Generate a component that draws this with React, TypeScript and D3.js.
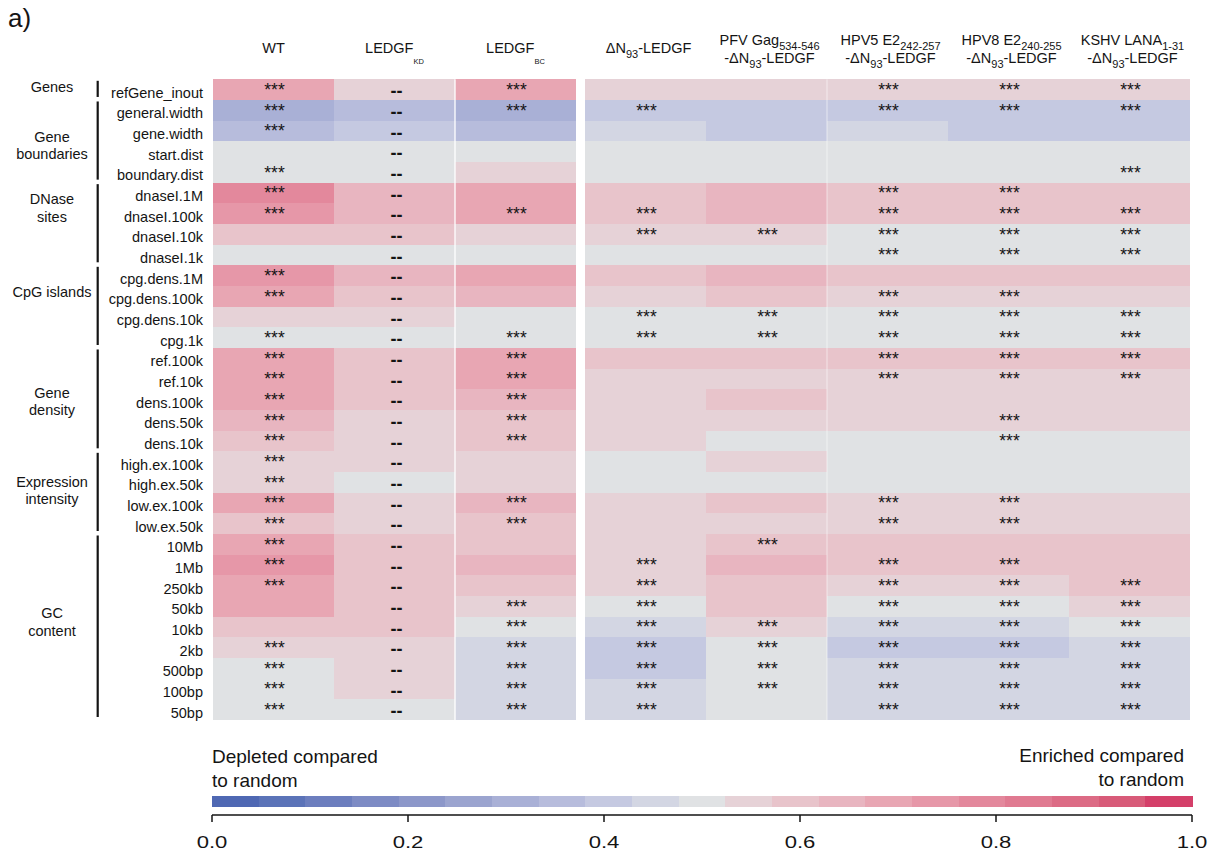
import React from "react";
import * as d3 from "d3";

// ---- Data -----------------------------------------------------------------

const rowLabels = [
  "refGene_inout",
  "general.width", "gene.width", "start.dist", "boundary.dist",
  "dnaseI.1M", "dnaseI.100k", "dnaseI.10k", "dnaseI.1k",
  "cpg.dens.1M", "cpg.dens.100k", "cpg.dens.10k", "cpg.1k",
  "ref.100k", "ref.10k", "dens.100k", "dens.50k", "dens.10k",
  "high.ex.100k", "high.ex.50k", "low.ex.100k", "low.ex.50k",
  "10Mb", "1Mb", "250kb", "50kb", "10kb", "2kb", "500bp", "100bp", "50bp",
];

const groupNames = [
  "Genes", "Gene\nboundaries", "DNase\nsites", "CpG islands",
  "Gene\ndensity", "Expression\nintensity", "GC\ncontent",
];
const groupSizes = [1, 4, 4, 4, 5, 4, 9];

// Column headers: lines of [text, kind] segments ("sub" = subscript, "tiny" = small low subscript)
type Seg = [string, string?];
const columnHeaders: Seg[][][] = [
  [[["WT"]]],
  [[["LEDGF"], ["KD", "tiny"]]],
  [[["LEDGF"], ["BC", "tiny"]]],
  [[["ΔN"], ["93", "sub"], ["-LEDGF"]]],
  [[["PFV Gag"], ["534-546", "sub"]], [["-ΔN"], ["93", "sub"], ["-LEDGF"]]],
  [[["HPV5 E2"], ["242-257", "sub"]], [["-ΔN"], ["93", "sub"], ["-LEDGF"]]],
  [[["HPV8 E2"], ["240-255", "sub"]], [["-ΔN"], ["93", "sub"], ["-LEDGF"]]],
  [[["KSHV LANA"], ["1-31", "sub"]], [["-ΔN"], ["93", "sub"], ["-LEDGF"]]],
];

// ROC-area style scores per condition, one per row (0 = depleted, 1 = enriched)
const wtValues = [
  0.69, 0.31, 0.36, 0.50, 0.50, 0.78, 0.74, 0.58, 0.50, 0.74, 0.69, 0.55, 0.50,
  0.70, 0.70, 0.70, 0.65, 0.59, 0.55, 0.55, 0.69, 0.60,
  0.70, 0.75, 0.70, 0.68, 0.61, 0.55, 0.50, 0.50, 0.50,
];
const ledgfKdValues = [
  0.55, 0.36, 0.41, 0.50, 0.50, 0.64, 0.64, 0.59, 0.50, 0.64, 0.60, 0.55, 0.50,
  0.60, 0.59, 0.59, 0.55, 0.55, 0.55, 0.50, 0.55, 0.55,
  0.59, 0.59, 0.59, 0.59, 0.59, 0.55, 0.55, 0.55, 0.50,
];
const ledgfBcValues = [
  0.70, 0.31, 0.36, 0.50, 0.55, 0.70, 0.70, 0.55, 0.50, 0.70, 0.65, 0.50, 0.50,
  0.70, 0.70, 0.66, 0.61, 0.61, 0.55, 0.55, 0.66, 0.60,
  0.60, 0.66, 0.60, 0.55, 0.50, 0.45, 0.45, 0.45, 0.45,
];
const dn93Values = [
  0.55, 0.40, 0.45, 0.50, 0.50, 0.61, 0.61, 0.55, 0.50, 0.61, 0.56, 0.50, 0.50,
  0.60, 0.55, 0.55, 0.55, 0.55, 0.50, 0.50, 0.55, 0.55,
  0.55, 0.56, 0.56, 0.50, 0.45, 0.40, 0.40, 0.45, 0.45,
];
const pfvValues = [
  0.55, 0.40, 0.40, 0.50, 0.50, 0.65, 0.65, 0.55, 0.50, 0.65, 0.61, 0.50, 0.50,
  0.60, 0.55, 0.59, 0.56, 0.50, 0.55, 0.50, 0.60, 0.56,
  0.61, 0.66, 0.60, 0.60, 0.55, 0.50, 0.50, 0.50, 0.50,
];
const hpv5Values = [
  0.55, 0.40, 0.45, 0.50, 0.50, 0.61, 0.61, 0.50, 0.50, 0.61, 0.55, 0.50, 0.50,
  0.61, 0.55, 0.55, 0.55, 0.50, 0.50, 0.50, 0.55, 0.55,
  0.61, 0.61, 0.55, 0.50, 0.45, 0.40, 0.45, 0.45, 0.45,
];
const hpv8Values = [
  0.55, 0.40, 0.40, 0.50, 0.50, 0.61, 0.61, 0.50, 0.50, 0.61, 0.55, 0.50, 0.50,
  0.61, 0.55, 0.55, 0.55, 0.50, 0.50, 0.50, 0.55, 0.55,
  0.61, 0.61, 0.55, 0.50, 0.45, 0.40, 0.45, 0.45, 0.45,
];
const kshvValues = [
  0.55, 0.40, 0.40, 0.50, 0.50, 0.61, 0.61, 0.50, 0.50, 0.61, 0.55, 0.50, 0.50,
  0.61, 0.55, 0.55, 0.55, 0.50, 0.50, 0.50, 0.55, 0.55,
  0.61, 0.61, 0.61, 0.55, 0.50, 0.45, 0.45, 0.45, 0.45,
];

// Significance per row: "x" = *** , "-" = not compared (--), "." = none
const wtSig     = "xxx.x" + "xx..x" + "x.xxx" + "xxxxx" + "xxxxx" + "..xxx" + "x";
const ledgfKdSig = "-----" + "-----" + "-----" + "-----" + "-----" + "-----" + "-";
const ledgfBcSig = "xx..." + ".x..." + "..xxx" + "xxx.." + "xx..." + "xxxxx" + "x";
const dn93Sig   = ".x..." + ".xx.." + ".xx.." + "....." + "...xx" + "xxxxx" + "x";
const pfvSig    = "....." + "..x.." + ".xx.." + "....." + "..x.." + ".xxxx" + ".";
const hpv5Sig   = "xx..." + "xxxx." + "xxxxx" + "....." + "xx.xx" + "xxxxx" + "x";
const hpv8Sig   = "xx..." + "xxxx." + "xxxxx" + ".xx.." + "xx.xx" + "xxxxx" + "x";
const kshvSig   = "xx..x" + ".xxx." + ".xxxx" + "....." + "....x" + "xxxxx" + "x";

const columnValues = [wtValues, ledgfKdValues, ledgfBcValues, dn93Values, pfvValues, hpv5Values, hpv8Values, kshvValues];
const columnSig = [wtSig, ledgfKdSig, ledgfBcSig, dn93Sig, pfvSig, hpv5Sig, hpv8Sig, kshvSig];

// 21-step diverging palette, depleted (blue) → random (grey) → enriched (red)
const enrichmentColors = [
  "#4f68b3", "#5b73b8", "#6c7ebe", "#7d8bc4", "#8c97c9", "#9ba4cf", "#a9b0d6",
  "#b7bcdc", "#c5c9e1", "#d3d6e3", "#e0e2e4",
  "#e6d2d7", "#e8c4cb", "#e8b5c0", "#e8a6b3", "#e697a8", "#e3889c", "#e07a91",
  "#dc6b85", "#d85b79", "#d43f69",
];

const legendTicks = [0, 0.2, 0.4, 0.6, 0.8, 1.0];

// ---- Layout ---------------------------------------------------------------

const W = 1221;
const H = 856;
const FONT = "'Liberation Sans', Arial, Helvetica, sans-serif";
const INK = "#141414";

const rowScale = d3.scaleBand<number>().domain(d3.range(rowLabels.length)).range([79.3, 720]);
const leftCols = d3.scaleBand<number>().domain([0, 1, 2]).range([213, 576]);
const rightCols = d3.scaleBand<number>().domain([3, 4, 5, 6, 7]).range([585, 1190]);
const colX = (c: number) => (c < 3 ? (leftCols(c) as number) : (rightCols(c) as number));
const colW = leftCols.bandwidth();
const rowH = rowScale.bandwidth();

const color = d3.scaleQuantize<string>().domain([0, 1]).range(enrichmentColors);
const legendX = d3.scaleLinear().domain([0, 1]).range([212, 1192]);

const bracketX = 97.7;
const groupLabelX = 52;
const groupLineGap = 17.3;
const groupLabelNudge = [-3, 4, -16, -15, 2, -2, -5];

function HeaderLine({ segs, x, y }: { segs: Seg[]; x: number; y: number }) {
  let shift = 0;
  const spans = segs.map(([t, kind], i) => {
    const target = kind === "sub" ? 5 : kind === "tiny" ? 11 : 0;
    const dy = target - shift;
    shift = target;
    const fs = kind === "sub" ? 11 : kind === "tiny" ? 7.5 : 14.5;
    return (
      <tspan key={i} dy={dy} fontSize={fs}>
        {t}
      </tspan>
    );
  });
  return (
    <text x={x} y={y} textAnchor="middle" fill={INK}>
      {spans}
    </text>
  );
}

export default function App() {
  // group row extents
  const groups: { name: string; start: number; end: number }[] = [];
  let acc = 0;
  groupNames.forEach((name, i) => {
    groups.push({ name, start: acc, end: acc + groupSizes[i] - 1 });
    acc += groupSizes[i];
  });

  const top = rowScale(0) as number;
  const bottom = (rowScale(rowLabels.length - 1) as number) + rowH;

  return (
    <svg
      width={W}
      height={H}
      viewBox={`0 0 ${W} ${H}`}
      style={{ position: "absolute", left: 0, top: 0, background: "#fff" }}
      fontFamily={FONT}
    >
      <rect x={0} y={0} width={W} height={H} fill="#fff" />

      <text x={8} y={27} fontSize={26} fill={INK}>
        a)
      </text>

      {/* column headers */}
      {columnHeaders.map((lines, c) => {
        const cx = colX(c) + colW / 2 + (c >= 3 ? 3 : 0);
        const ys = lines.length === 1 ? [52.5] : [45, 63];
        return (
          <g key={c}>
            {lines.map((segs, li) => (
              <HeaderLine key={li} segs={segs} x={cx} y={ys[li]} />
            ))}
          </g>
        );
      })}

      {/* heatmap cells */}
      <g shapeRendering="crispEdges">
        {columnValues.map((vals, c) =>
          vals.map((v, r) => (
            <rect
              key={`${c}-${r}`}
              x={colX(c)}
              y={rowScale(r) as number}
              width={colW + (c === 2 || c === 7 ? 0 : 0.6)}
              height={rowH + (r === rowLabels.length - 1 ? 0 : 0.6)}
              fill={color(v)}
            />
          ))
        )}
      </g>

      {/* thin separators between panels */}
      <line x1={colX(2)} x2={colX(2)} y1={top} y2={bottom} stroke="#fff" strokeWidth={1.3} />
      <line x1={colX(5)} x2={colX(5)} y1={top} y2={bottom} stroke="#fff" strokeWidth={1} strokeOpacity={0.55} />

      {/* significance marks */}
      {columnSig.map((sig, c) =>
        sig.split("").map((m, r) => {
          if (m === ".") return null;
          const cy = (rowScale(r) as number) + rowH / 2;
          const cx = colX(c) + colW / 2 + (c === 1 ? 2 : 1);
          return m === "x" ? (
            <text key={`${c}-${r}`} x={cx} y={cy + 6.3} fontSize={17.5} textAnchor="middle" fill={INK}>
              ***
            </text>
          ) : (
            <text key={`${c}-${r}`} x={cx} y={cy + 7.6} fontSize={18} fontWeight="bold" textAnchor="middle" fill={INK}>
              --
            </text>
          );
        })
      )}

      {/* row labels */}
      {rowLabels.map((lab, r) => (
        <text
          key={lab}
          x={203}
          y={(rowScale(r) as number) + rowH / 2 + 8}
          fontSize={14.5}
          textAnchor="end"
          fill={INK}
        >
          {lab}
        </text>
      ))}

      {/* group brackets and labels */}
      {groups.map((g, i) => {
        const y0 = rowScale(g.start) as number;
        const y1 = (rowScale(g.end) as number) + rowH;
        const lines = g.name.split("\n");
        const mid = (y0 + y1) / 2;
        const first = mid - ((lines.length - 1) * groupLineGap) / 2 + 5 + groupLabelNudge[i];
        return (
          <g key={g.name}>
            <line x1={bracketX} x2={bracketX} y1={y0 + 1.5} y2={y1 - 3} stroke={INK} strokeWidth={2.2} />
            <text x={groupLabelX} y={first} fontSize={14.5} textAnchor="middle" fill={INK}>
              {lines.map((l, li) => (
                <tspan key={li} x={groupLabelX} dy={li === 0 ? 0 : groupLineGap}>
                  {l}
                </tspan>
              ))}
            </text>
          </g>
        );
      })}

      {/* colour key */}
      <text x={legendX(0)} y={763} fontSize={19} fill={INK}>
        <tspan x={legendX(0)}>Depleted compared</tspan>
        <tspan x={legendX(0)} dy={23.5}>to random</tspan>
      </text>
      <text x={1184} y={762} fontSize={19} textAnchor="end" fill={INK}>
        <tspan x={1184}>Enriched compared</tspan>
        <tspan x={1184} dy={23.5}>to random</tspan>
      </text>

      <g shapeRendering="crispEdges">
        {enrichmentColors.map((col) => {
          const [lo, hi] = color.invertExtent(col);
          return (
            <rect
              key={col}
              x={legendX(lo)}
              y={796}
              width={legendX(hi) - legendX(lo) + 0.5}
              height={11}
              fill={col}
            />
          );
        })}
      </g>

      <line x1={legendX(0)} x2={legendX(1)} y1={815} y2={815} stroke={INK} strokeWidth={1.5} />
      {legendTicks.map((t) => (
        <g key={t}>
          <line x1={legendX(t)} x2={legendX(t)} y1={815} y2={822} stroke={INK} strokeWidth={1.5} />
          <text
            transform={`translate(${legendX(t)},848) scale(1.3,1)`}
            fontSize={17}
            textAnchor="middle"
            fill={INK}
          >
            {d3.format(".1f")(t)}
          </text>
        </g>
      ))}
    </svg>
  );
}
